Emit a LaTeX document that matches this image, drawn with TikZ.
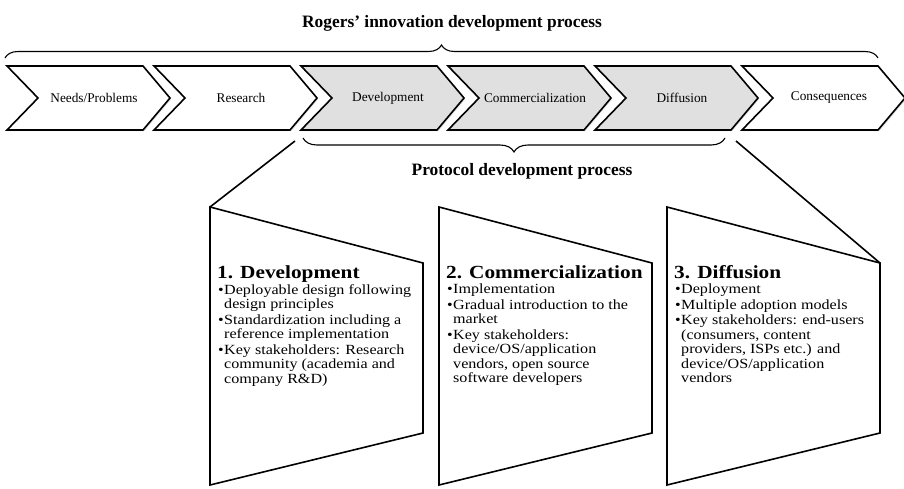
\documentclass[tikz,border=0pt]{standalone}
\usepackage{fontspec}
\setmainfont{Liberation Serif}
\newfontfamily\panelfont[FakeStretch=1.15]{Liberation Serif}
\usetikzlibrary{calc,shadows,decorations.pathreplacing}

\definecolor{stagegray}{gray}{0.88}

% bullet and hanging indent for the panel lists
\newcommand{\pbul}{\makebox[6pt][l]{\textbullet}}
\newcommand{\pind}{\hspace*{6pt}}

\begin{document}
\begin{tikzpicture}[x=1pt,y=-1pt,
  stagebox/.style={draw=black,line width=1.6pt,
    drop shadow={shadow xshift=1.2pt,shadow yshift=-1.2pt,opacity=0.25}},
  stagelabel/.style={inner sep=0pt,font=\fontsize{13.3}{15}\selectfont},
  panelbox/.style={draw=black,line width=1.6pt,fill=white},
  panelhead/.style={anchor=base west,inner sep=0pt,
    font=\panelfont\bfseries\fontsize{18.5}{20}\selectfont},
  paneltext/.style={anchor=north west,inner sep=0pt,align=left,
    font=\panelfont\fontsize{14}{14.5}\selectfont},
  bracket/.style={draw=black,line width=1.1pt,decorate},
  caption/.style={anchor=base,inner sep=0pt,font=\bfseries\fontsize{17.4}{20}\selectfont},
  zoomline/.style={draw=black,line width=1.6pt}]

\useasboundingbox (0,0) rectangle (904,488);

% the six stages of the innovation process
\foreach \i/\fc in {0/white,1/white,2/stagegray,3/stagegray,4/stagegray,5/white}{
  \pgfmathsetmacro\xa{7+147*\i}
  \draw[stagebox,fill=\fc] (\xa,66) -- ++(136,0) -- ++(27,32) -- ++(-27,32)
     -- ++(-136,0) -- ++(31,-32) -- cycle;}

\node[stagelabel] (needs)  at (94,98)  {Needs/Problems};
\node[stagelabel] (resrch) at (241,98) {Research};
\node[stagelabel] (devel)  at (388,98) {Development};
\node[stagelabel] (comm)   at (535,98) {Commercialization};
\node[stagelabel] (diffu)  at (682,98) {Diffusion};
\node[stagelabel] (conseq) at (829,98) {Consequences};

% braces and their captions
\coordinate (rl) at (5,58);
\coordinate (rr) at (878,58);
\coordinate (pl) at (303,138);
\coordinate (pr) at (725,138);
\draw[bracket,decoration={brace,amplitude=13pt}] (rl) -- (rr);
\draw[bracket,decoration={brace,mirror,amplitude=14pt}] (pl) -- (pr);
\node[caption] (rogers) at (452,27)  {Rogers’ innovation development process};
\node[caption] (proto)  at (522,175) {Protocol development process};

% the three phase panels
\coordinate (dnw) at (210,207); \coordinate (dne) at (423,263);
\coordinate (dse) at (423,433); \coordinate (dsw) at (210,485);
\coordinate (cnw) at (439,207); \coordinate (cne) at (652,263);
\coordinate (cse) at (652,433); \coordinate (csw) at (439,485);
\coordinate (fnw) at (667,207); \coordinate (fne) at (880,263);
\coordinate (fse) at (880,433); \coordinate (fsw) at (667,485);

\coordinate (zl) at (295,141);
\coordinate (zr) at (736,141);
\draw[zoomline] (zl) -- (dnw);
\draw[zoomline] (zr) -- (fne);

\draw[panelbox] (dnw) -- (dne) -- (dse) -- (dsw) -- cycle;
\draw[panelbox] (cnw) -- (cne) -- (cse) -- (csw) -- cycle;
\draw[panelbox] (fnw) -- (fne) -- (fse) -- (fsw) -- cycle;

\node[panelhead] (devhead)  at (217,278) {1. Development};
\node[panelhead] (commhead) at (446,278) {2. Commercialization};
\node[panelhead] (diffhead) at (674,278) {3. Diffusion};

\node[paneltext] (devtext) at (218,284)
  {\pbul Deployable design following\\\pind design principles\\[1pt]
   \pbul Standardization including a\\\pind reference implementation\\[1pt]
   \pbul Key stakeholders: Research\\\pind community (academia and\\\pind company R\&D)};
\node[paneltext] (commtext) at (447,284)
  {\pbul Implementation\\[1pt]
   \pbul Gradual introduction to the\\\pind market\\[1pt]
   \pbul Key stakeholders:\\\pind device/OS/application\\\pind vendors, open source\\\pind software developers};
\node[paneltext] (difftext) at (675,284)
  {\pbul Deployment\\[1pt]
   \pbul Multiple adoption models\\[1pt]
   \pbul Key stakeholders: end-users\\\pind (consumers, content\\\pind providers, ISPs etc.) and\\\pind device/OS/application\\\pind vendors};

\end{tikzpicture}
\end{document}
